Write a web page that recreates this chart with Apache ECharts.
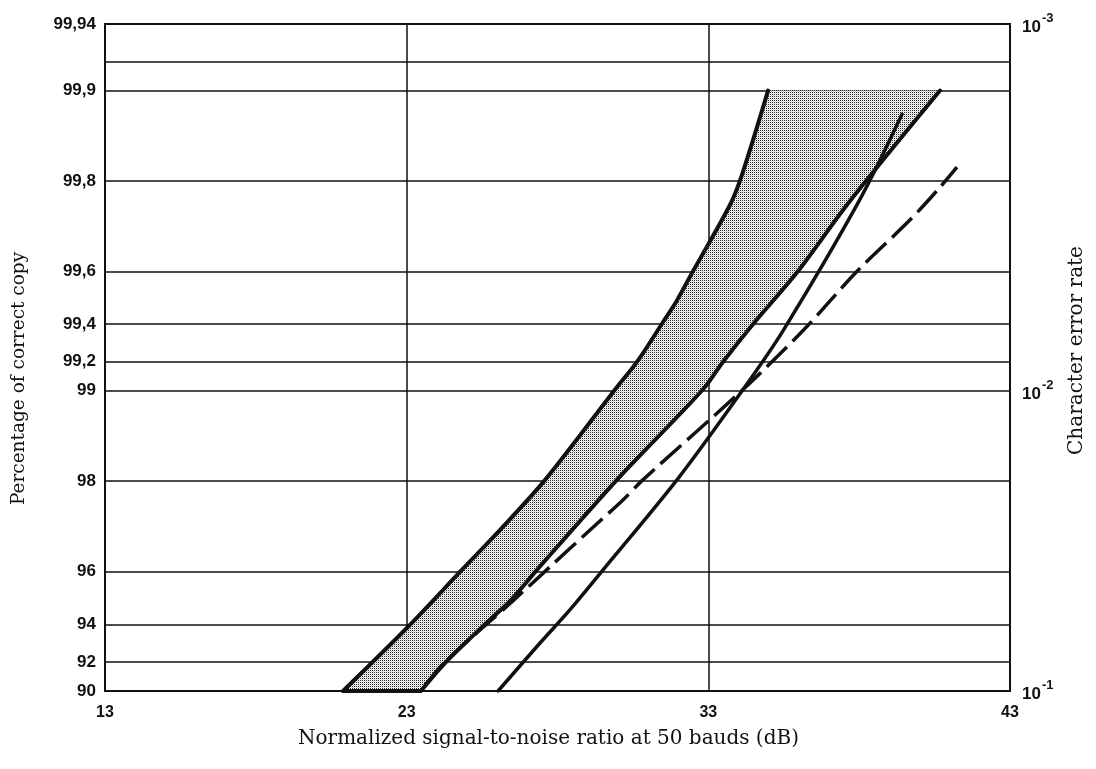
<!DOCTYPE html>
<html>
<head>
<meta charset="utf-8">
<script src="https://cdn.jsdelivr.net/npm/echarts@6/dist/echarts.min.js"></script>
<style>
  html, body { margin: 0; padding: 0; background: #fff; }
  #chart { width: 1096px; height: 769px; }
</style>
</head>
<body>
<div id="chart"></div>
<script>
// Signal-to-noise ratio ticks (dB)
const snrTicks = [13, 23, 33, 43];

// Percentage of correct copy: grid lines and their labels ('' = unlabelled line)
const copyTicks = [90, 92, 94, 96, 98, 99, 99.2, 99.4, 99.6, 99.8, 99.9, 99.92, 99.94];
const copyTickLabels = ['90', '92', '94', '96', '98', '99', '99,2', '99,4', '99,6', '99,8', '99,9', '', '99,94'];

// Character error rate labels on the right-hand side
const rateTicks = [90, 99, 99.94];
const rateTickLabels = [['10', '-1'], ['10', '-2'], ['10', '-3']];

// Curves: [S/N in dB, percentage of correct copy]
const leftEdge = [
  [20.89, 90], [23.04, 93.88], [24.83, 96.05], [26.09, 97.09],
  [27.59, 98.02], [29.91, 99.01], [30.64, 99.2], [31.5, 99.41], [31.96, 99.5],
  [32.49, 99.6], [33.72, 99.76], [34.12, 99.81], [34.98, 99.9]
];
const rightEdge = [
  [23.47, 90], [24.27, 91.93], [25.5, 93.88], [26.43, 94.99], [27.32, 96.05],
  [29.97, 98.02], [32.82, 99.01], [33.49, 99.2], [34.48, 99.4],
  [35.97, 99.6], [37.6, 99.76], [40.68, 99.9]
];
const solidCurve = [
  [26.03, 90], [27.42, 93.08], [28.41, 94.63], [29.51, 96.05],
  [31.96, 98.02], [34.15, 99.01], [35.48, 99.37], [38.03, 99.77], [39.42, 99.88]
];
const dashedCurve = [
  [23.6, 90.4], [24.27, 92.0], [26.52, 94.99], [27.75, 96.14], [28.98, 97.03],
  [30.17, 97.69], [30.83, 98.02], [34.15, 99.01], [36.14, 99.37],
  [37.93, 99.6], [39.68, 99.73], [40.68, 99.79], [41.24, 99.82]
];

// The vertical scale is logarithmic in the error rate (100 - percentage)
const toErr = p => +((100 - p) / 100).toFixed(6);
const toPoints = arr => arr.map(([x, p]) => [x, toErr(p)]);

const copyErr = copyTicks.map(toErr);
const rateErr = rateTicks.map(toErr);
const findIdx = (list, v) => list.findIndex(t => Math.abs(t - v) < t * 1e-6);

// Band fill polygon: left edge upwards, right edge back down
const bandFill = toPoints(leftEdge.concat([...rightEdge].reverse()));
// Bottom of the band, drawn as a heavy segment
const bandBottom = toPoints([leftEdge[0], rightEdge[0]]);

// Dot-screen texture for the shaded band
const tex = document.createElement('canvas');
tex.width = 2; tex.height = 2;
const g = tex.getContext('2d');
g.fillStyle = '#ffffff'; g.fillRect(0, 0, 2, 2);
g.fillStyle = '#222222'; g.fillRect(0, 0, 1, 1);
g.fillStyle = '#cfcfcf'; g.fillRect(1, 1, 1, 1);

const tickFont = { fontFamily: 'Liberation Sans, Arial, sans-serif', fontWeight: 'bold', color: '#111' };
const serif = 'DejaVu Serif, serif';

const yBase = {
  type: 'log',
  logBase: 10,
  inverse: true,
  min: toErr(99.94),
  max: toErr(90),
  nameLocation: 'middle',
  nameRotate: 90,
  axisLine: { show: true, lineStyle: { color: '#111', width: 2 } },
  axisTick: { show: false },
  minorTick: { show: false },
  minorSplitLine: { show: false }
};

const curveLine = (data, width, extra) => ({
  type: 'line',
  symbol: 'none',
  z: 3,
  smooth: 0.3,
  data: toPoints(data),
  lineStyle: Object.assign({ color: '#111', width: width, cap: 'round', join: 'round' }, extra || {})
});

const chart = echarts.init(document.getElementById('chart'), null, { renderer: 'canvas' });
chart.setOption({
  animation: false,
  backgroundColor: '#fff',
  grid: { left: 105, right: 86, top: 24, bottom: 78, containLabel: false, show: true, borderColor: '#111', borderWidth: 2 },
  xAxis: {
    type: 'value',
    min: 13,
    max: 43,
    name: 'Normalized signal-to-noise ratio at 50 bauds (dB)',
    nameLocation: 'middle',
    nameGap: 38,
    nameTextStyle: { fontFamily: serif, fontSize: 20, color: '#111', padding: [0, 18, 0, 0] },
    axisLine: { show: true, lineStyle: { color: '#111', width: 2 } },
    axisTick: { show: false, customValues: snrTicks },
    axisLabel: { customValues: snrTicks, margin: 14, fontSize: 16, ...tickFont },
    splitLine: { show: true, lineStyle: { color: '#111', width: 1.5 } }
  },
  yAxis: [
    Object.assign({}, yBase, {
      position: 'left',
      name: 'Percentage of correct copy',
      nameGap: 76,
      nameTextStyle: { fontFamily: serif, fontSize: 18.5, color: '#111', padding: [0, 42, 0, 0] },
      axisTick: { show: false, customValues: copyErr },
      axisLabel: {
        customValues: copyErr,
        margin: 9,
        fontSize: 17,
        ...tickFont,
        formatter: v => { const i = findIdx(copyErr, v); return i >= 0 ? copyTickLabels[i] : ''; }
      },
      splitLine: { show: true, lineStyle: { color: '#111', width: 1.5 } }
    }),
    Object.assign({}, yBase, {
      position: 'right',
      name: 'Character error rate',
      nameGap: 57,
      nameTextStyle: { fontFamily: serif, fontSize: 20, color: '#111', padding: [0, 0, 0, 14] },
      axisTick: { show: false, customValues: rateErr },
      axisLabel: {
        customValues: rateErr,
        margin: 12,
        formatter: v => {
          const i = findIdx(rateErr, v);
          if (i < 0) return '';
          return '{b|' + rateTickLabels[i][0] + '}{s|' + rateTickLabels[i][1] + '}';
        },
        rich: {
          b: { ...tickFont, fontSize: 17, lineHeight: 24, verticalAlign: 'bottom' },
          s: { ...tickFont, fontSize: 13, lineHeight: 24, verticalAlign: 'top', padding: [0, 0, 0, 1] }
        }
      },
      splitLine: { show: false }
    })
  ],
  series: [
    {
      type: 'custom',
      coordinateSystem: 'cartesian2d',
      silent: true,
      z: 1,
      data: bandFill,
      encode: { x: 0, y: 1 },
      renderItem: (params, api) => {
        if (params.dataIndex !== 0) return null;
        const pts = bandFill.map(d => api.coord(d));
        return { type: 'polygon', shape: { points: pts }, style: { fill: { image: tex, repeat: 'repeat' } } };
      }
    },
    curveLine(leftEdge, 4),
    curveLine(rightEdge, 4),
    {
      type: 'line', symbol: 'none', z: 3, data: bandBottom,
      lineStyle: { color: '#111', width: 4 }
    },
    curveLine(solidCurve, 3.5),
    curveLine(dashedCurve, 3.5, { type: [28, 8], cap: 'butt' })
  ]
});
</script>
</body>
</html>
